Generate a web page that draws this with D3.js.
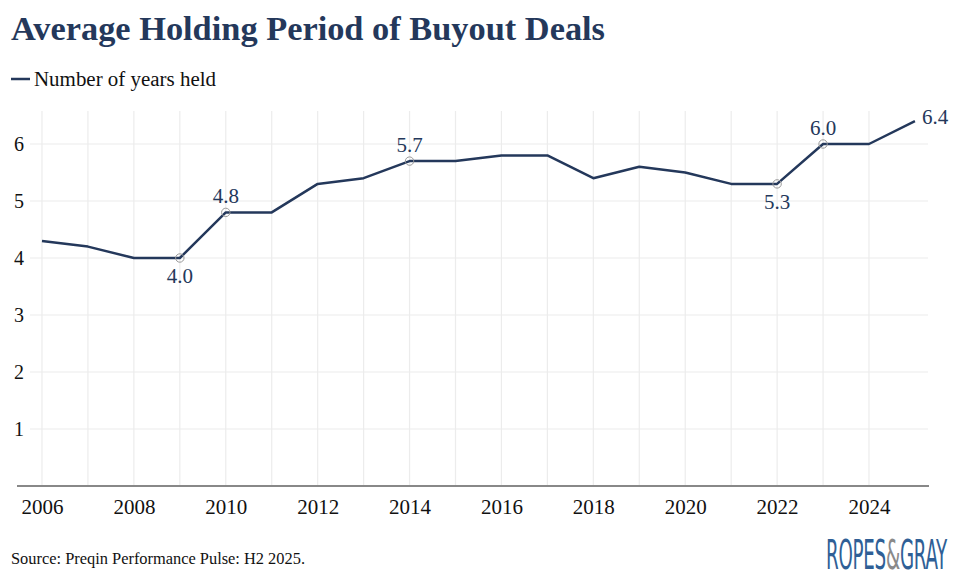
<!DOCTYPE html>
<html>
<head>
<meta charset="utf-8">
<script src="https://cdn.jsdelivr.net/npm/d3@7"></script>
<style>
  body { margin: 0; background: #fff; }
  text { font-family: "Liberation Serif", "DejaVu Serif", serif; }
</style>
</head>
<body>
<script>
const years = [2006, 2007, 2008, 2009, 2010, 2011, 2012, 2013, 2014, 2015,
               2016, 2017, 2018, 2019, 2020, 2021, 2022, 2023, 2024, 2025];
const holding = [4.3, 4.2, 4.0, 4.0, 4.8, 4.8, 5.3, 5.4, 5.7, 5.7,
                 5.8, 5.8, 5.4, 5.6, 5.5, 5.3, 5.3, 6.0, 6.0, 6.4];
const xTicks = [2006, 2008, 2010, 2012, 2014, 2016, 2018, 2020, 2022, 2024];
const yTicks = [1, 2, 3, 4, 5, 6];
// labelled points: year, side of label
const markYears = [2009, 2010, 2014, 2022, 2023];
const markSide = ["below", "above", "above", "below", "above"];

const w = 954, h = 578;
const navy = "#24385b";

const data = years.map((y, i) => ({ year: y, v: holding[i] }));

const x = d3.scaleLinear().domain([2006, 2024]).range([42, 869]);
const y = d3.scaleLinear().domain([0, 6]).range([486, 144]);

const svg = d3.select("body").append("svg")
  .attr("width", w)
  .attr("height", h);

// title + legend
svg.append("text")
  .attr("x", 11).attr("y", 40)
  .attr("font-size", 33).attr("font-weight", "bold")
  .attr("textLength", 594).attr("lengthAdjust", "spacingAndGlyphs")
  .attr("fill", navy)
  .text("Average Holding Period of Buyout Deals");

svg.append("line")
  .attr("x1", 11).attr("x2", 30).attr("y1", 79).attr("y2", 79)
  .attr("stroke", navy).attr("stroke-width", 2.5);
svg.append("text")
  .attr("x", 34).attr("y", 86)
  .attr("font-size", 20).attr("fill", "#111")
  .attr("textLength", 182).attr("lengthAdjust", "spacingAndGlyphs")
  .text("Number of years held");

// grid
const gridTop = 111;
svg.append("g").selectAll("line")
  .data(years.filter(d => d <= 2024))
  .join("line")
  .attr("x1", d => x(d)).attr("x2", d => x(d))
  .attr("y1", gridTop).attr("y2", 486)
  .attr("stroke", "#ececec").attr("stroke-width", 1.2);

svg.append("g").selectAll("line")
  .data(yTicks)
  .join("line")
  .attr("x1", 30).attr("x2", 928)
  .attr("y1", d => y(d)).attr("y2", d => y(d))
  .attr("stroke", "#ececec").attr("stroke-width", 1.2);

// y tick labels
svg.append("g").selectAll("text")
  .data(yTicks)
  .join("text")
  .attr("x", 19).attr("y", d => y(d) + 7)
  .attr("text-anchor", "middle")
  .attr("font-size", 20).attr("fill", "#111")
  .text(d => d);

// x axis
const xAxis = d3.axisBottom(x).tickValues(xTicks).tickFormat(d3.format("d")).tickSize(0).tickPadding(13);
const gx = svg.append("g")
  .attr("transform", "translate(0," + 486 + ")")
  .call(xAxis);
gx.select(".domain").remove();
gx.selectAll("text")
  .attr("font-family", "Liberation Serif, serif")
  .attr("font-size", 21).attr("fill", "#111");
svg.append("line")
  .attr("x1", 17).attr("x2", 929).attr("y1", 486).attr("y2", 486)
  .attr("stroke", "#888").attr("stroke-width", 2);

// line
const line = d3.line().x(d => x(d.year)).y(d => y(d.v));
svg.append("path")
  .datum(data)
  .attr("d", line)
  .attr("fill", "none")
  .attr("stroke", navy)
  .attr("stroke-width", 2.5)
  .attr("stroke-linejoin", "round");

// marked points
const marks = markYears.map((yr, i) => ({ year: yr, v: holding[years.indexOf(yr)], side: markSide[i] }));
svg.append("g").selectAll("circle")
  .data(marks)
  .join("circle")
  .attr("cx", d => x(d.year)).attr("cy", d => y(d.v))
  .attr("r", 4.2)
  .attr("fill", "none")
  .attr("stroke", "#999")
  .attr("stroke-width", 1);

svg.append("g").selectAll("text")
  .data(marks)
  .join("text")
  .attr("x", d => x(d.year))
  .attr("y", d => d.side === "above" ? y(d.v) - 9 : y(d.v) + 25)
  .attr("text-anchor", "middle")
  .attr("font-size", 21).attr("fill", navy)
  .text(d => d.v.toFixed(1));

// last value label
const last = data[data.length - 1];
svg.append("text")
  .attr("x", x(last.year) + 7).attr("y", y(last.v) + 3)
  .attr("font-size", 21).attr("fill", navy)
  .text(last.v.toFixed(1));

// source
svg.append("text")
  .attr("x", 11).attr("y", 564)
  .attr("font-size", 16).attr("fill", "#111")
  .attr("textLength", 294).attr("lengthAdjust", "spacingAndGlyphs")
  .text("Source: Preqin Performance Pulse: H2 2025.");

// logo: one text, squeezed to fit the box with a scale transform
const logo = svg.append("text")
  .attr("x", 0).attr("y", 0)
  .attr("font-size", 40)
  .attr("letter-spacing", -0.5)
  .style("font-family", "'Liberation Sans Narrow', 'DejaVu Sans Condensed', sans-serif");
logo.append("tspan").attr("fill", "#2f5f96").text("ROPES");
logo.append("tspan").attr("fill", "#8a8a8a").text("&");
logo.append("tspan").attr("fill", "#2f5f96").text("GRAY");
const lw = logo.node().getComputedTextLength();
logo.attr("transform", "translate(826,569) scale(" + (121 / lw) + ",1)");
</script>
</body>
</html>
